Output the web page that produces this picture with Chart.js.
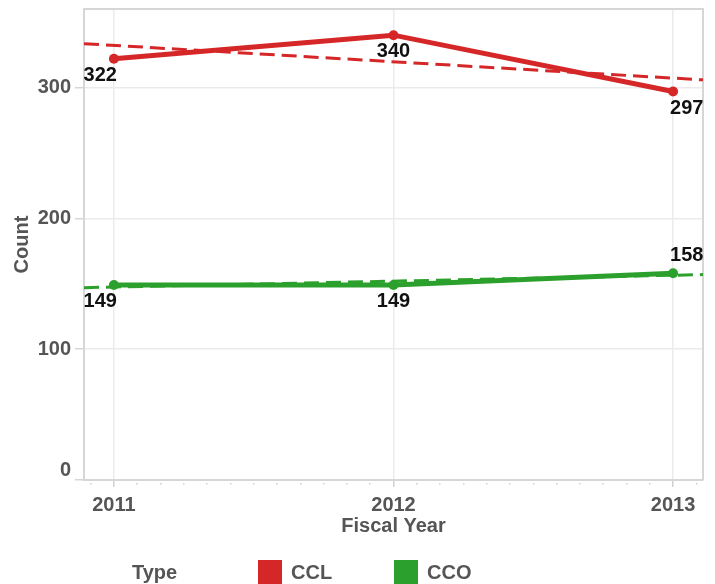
<!DOCTYPE html>
<html>
<head>
<meta charset="utf-8">
<script src="https://cdn.jsdelivr.net/npm/chart.js@4.4.1/dist/chart.umd.min.js"></script>
<style>
  html, body { margin: 0; padding: 0; background: #fff; }
  #wrap { position: relative; width: 715px; height: 584px; overflow: hidden; }
  .lg { position: absolute; top: 560px; font: bold 20px "Liberation Sans", Arial, sans-serif; color: #555; line-height: 24px; }
  .sw { position: absolute; top: 560px; width: 24px; height: 24px; }
</style>
</head>
<body>
<div id="wrap">
  <canvas id="chart" width="715" height="584"></canvas>
  <div id="legend"></div>
</div>
<script>
const years = [2011, 2012, 2013];
const cclCounts = [322, 340, 297];
const ccoCounts = [149, 149, 158];
const seriesNames = ["CCL", "CCO"];
const seriesColors = ["#d62728", "#2ca02c"];
const yTicks = [0, 100, 200, 300];

// axis range (Tableau pads the date axis a bit on both sides)
const xMin = 2010.893;
const xMax = 2013.107;

// monthly ticks, labels only on the years
const xTickValues = [];
for (let y = 2010; y <= 2013; y++) {
  for (let m = 0; m < 12; m++) {
    const v = y + m / 12;
    if (v >= xMin && v <= xMax) xTickValues.push(v);
  }
}

// data label placement per point
const labelAlign = ["right", "center", "left"];
const labelDx = [3, 0, -3];
const labelDy = [[17, 16, 17], [16, 16, -18]];

const FONT = '"Liberation Sans", Arial, sans-serif';
const GRAY = "#555";

function trend(xs, ys) {
  const n = xs.length;
  const mx = xs.reduce((a, b) => a + b, 0) / n;
  const my = ys.reduce((a, b) => a + b, 0) / n;
  let sxy = 0, sxx = 0;
  for (let i = 0; i < n; i++) {
    sxy += (xs[i] - mx) * (ys[i] - my);
    sxx += (xs[i] - mx) * (xs[i] - mx);
  }
  const b = sxy / sxx;
  return [xMin, xMax].map(x => ({ x: x, y: my + b * (x - mx) }));
}

const series = [cclCounts, ccoCounts];

const datasets = [];
series.forEach((vals, i) => {
  datasets.push({
    label: seriesNames[i],
    data: years.map((x, j) => ({ x: x, y: vals[j] })),
    borderColor: seriesColors[i],
    backgroundColor: seriesColors[i],
    borderWidth: 5,
    pointRadius: 5,
    pointBorderWidth: 0,
    pointBackgroundColor: seriesColors[i],
    order: 1
  });
});
series.forEach((vals, i) => {
  datasets.push({
    label: seriesNames[i] + " trend",
    data: trend(years, vals),
    borderColor: seriesColors[i],
    borderWidth: 3,
    borderDash: [15, 7],
    pointRadius: 0,
    order: 2
  });
});

const isMajor = c => c.tick && Number.isInteger(c.tick.value);

const framePlugin = {
  id: "frame",
  beforeDatasetsDraw(chart) {
    const { ctx, chartArea: a } = chart;
    ctx.save();
    ctx.strokeStyle = "#d6d6d6";
    ctx.lineWidth = 2;
    ctx.beginPath();
    ctx.moveTo(a.left, a.top);
    ctx.lineTo(a.right, a.top);
    ctx.lineTo(a.right, a.bottom);
    ctx.stroke();
    ctx.restore();
  },
  beforeDraw(chart) {
    // keep the "0" label above the axis line, like the original
    const ys = chart.scales.y;
    const items = ys.getLabelItems(chart.chartArea);
    items.forEach(it => {
      if (it.label === "0") it.options.translation[1] -= 10;
    });
  }
};

const labelPlugin = {
  id: "pointLabels",
  afterDatasetsDraw(chart) {
    const ctx = chart.ctx;
    ctx.save();
    ctx.font = "bold 20px " + FONT;
    ctx.fillStyle = "#111";
    ctx.textBaseline = "middle";
    series.forEach((vals, i) => {
      const meta = chart.getDatasetMeta(i);
      meta.data.forEach((pt, j) => {
        ctx.textAlign = labelAlign[j];
        ctx.fillText(String(vals[j]), pt.x + labelDx[j], pt.y + labelDy[i][j]);
      });
    });
    ctx.restore();
  }
};

new Chart(document.getElementById("chart").getContext("2d"), {
  type: "line",
  data: { datasets: datasets },
  plugins: [framePlugin, labelPlugin],
  options: {
    responsive: false,
    animation: false,
    layout: { padding: { top: 9, right: 12, bottom: 40, left: 0 } },
    plugins: { legend: { display: false }, tooltip: { enabled: false } },
    scales: {
      x: {
        type: "linear",
        min: xMin,
        max: xMax,
        afterBuildTicks: s => { s.ticks = xTickValues.map(v => ({ value: v })); },
        afterFit: s => { s.height = 64; s.paddingLeft = 0; s.paddingRight = 0; },
        ticks: {
          autoSkip: false,
          maxRotation: 0,
          padding: 6,
          color: GRAY,
          font: { family: FONT, size: 20, weight: "bold" },
          callback: v => Number.isInteger(v) ? String(v) : ""
        },
        grid: {
          color: c => isMajor(c) ? "#ebebeb" : "rgba(0,0,0,0)",
          lineWidth: 1.5,
          tickLength: 7,
          tickColor: c => isMajor(c) ? "#cfcfcf" : "#d0d0d0",
          tickBorderDash: c => isMajor(c) ? [] : [0, 2, 1.5, 20]
        },
        border: { color: "#d6d6d6", width: 2 },
        title: {
          display: true,
          text: "Fiscal Year",
          color: GRAY,
          font: { family: FONT, size: 20, weight: "bold" },
          padding: { top: 0, bottom: 6 }
        }
      },
      y: {
        min: 0,
        max: 360,
        afterBuildTicks: s => { s.ticks = yTicks.map(v => ({ value: v })); },
        afterFit: s => { s.width = 84; s.paddingTop = 0; s.paddingBottom = 0; },
        ticks: {
          padding: 4,
          color: GRAY,
          font: { family: FONT, size: 20, weight: "bold" }
        },
        grid: {
          color: "#ebebeb",
          lineWidth: 1.5,
          tickLength: 9,
          tickColor: "#d6d6d6"
        },
        border: { color: "#d6d6d6", width: 2 },
        title: {
          display: true,
          text: "Count",
          color: GRAY,
          font: { family: FONT, size: 20, weight: "bold" },
          padding: { top: 10, bottom: 0 }
        }
      }
    }
  }
});

// legend
const legend = document.getElementById("legend");
let html = '<div class="lg" style="left:132px">Type</div>';
const swatchX = [258, 394];
seriesNames.forEach((name, i) => {
  html += '<div class="sw" style="left:' + swatchX[i] + 'px;background:' + seriesColors[i] + '"></div>';
  html += '<div class="lg" style="left:' + (swatchX[i] + 33) + 'px">' + name + '</div>';
});
legend.innerHTML = html;
</script>
</body>
</html>
